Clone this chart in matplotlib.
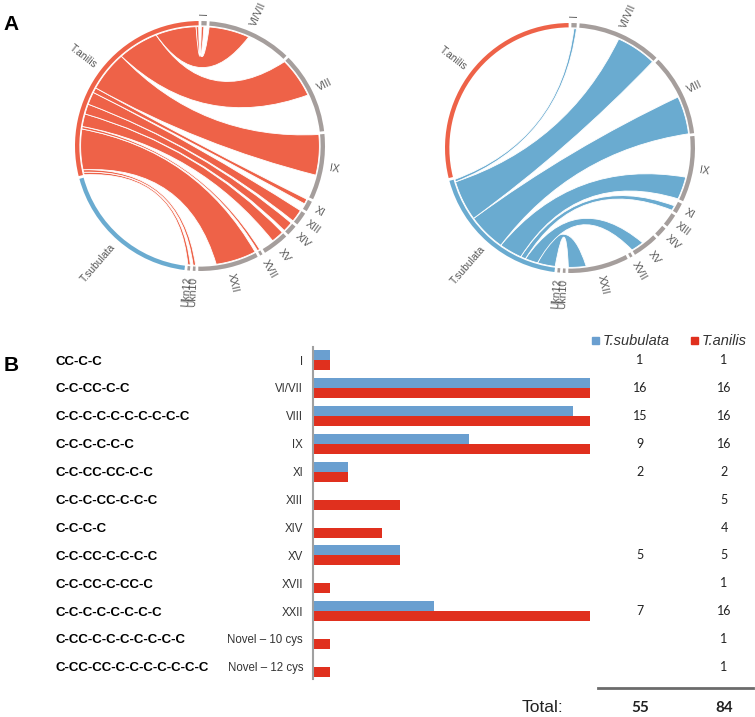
import numpy as np
import matplotlib.pyplot as plt
import matplotlib.transforms as mtransforms
from matplotlib.path import Path
from matplotlib.patches import PathPatch, Wedge, Rectangle
from matplotlib.lines import Line2D

plt.rcParams['font.family'] = ['Liberation Sans', 'DejaVu Sans']

# data
motifs = ["CC-C-C", "C-C-CC-C-C", "C-C-C-C-C-C-C-C-C-C", "C-C-C-C-C-C",
          "C-C-CC-CC-C-C", "C-C-C-CC-C-C-C", "C-C-C-C", "C-C-CC-C-C-C-C",
          "C-C-CC-C-CC-C", "C-C-C-C-C-C-C-C", "C-CC-C-C-C-C-C-C-C",
          "C-CC-CC-C-C-C-C-C-C-C"]
groups = ["I", "VI/VII", "VIII", "IX", "XI", "XIII", "XIV", "XV", "XVII",
          "XXII", "Novel \u2013 10 cys", "Novel \u2013 12 cys"]
chord_names = ["I", "VI/VII", "VIII", "IX", "XI", "XIII", "XIV", "XV", "XVII",
               "XXII", "Ukn10", "Ukn12"]
subulata = [1, 16, 15, 9, 2, 0, 0, 5, 0, 7, 0, 0]
anilis = [1, 16, 16, 16, 2, 5, 4, 5, 1, 16, 1, 1]
species = ["T.subulata", "T.anilis"]

C_RED = "#EE6248"
C_BLUE = "#6AABD0"
C_GRAY = "#A59E9C"
BAR_BLUE = "#6A9FD0"
BAR_RED = "#E0301E"
LBL = "#555555"

W, H = 755, 717
fig = plt.figure(figsize=(W / 100, H / 100), dpi=100)


def px_axes(x0, y0, w, h):
    return fig.add_axes([x0 / W, 1 - (y0 + h) / H, w / W, h / H])


# ---- chord diagrams ----
GAP = 1.3
total = sum(subulata) + sum(anilis)
UNIT = (360 - 14 * GAP) / (2 * total)
R_TRK, TRK_W, R_LNK = 1.0, 0.035, 0.955

sizes = [s + a for s, a in zip(subulata, anilis)] + [sum(subulata), sum(anilis)]
starts = []
ang = 90 - GAP / 2
for v in sizes:
    starts.append(ang)
    ang -= v * UNIT + GAP


def pol(a, r=R_LNK):
    t = np.radians(a)
    return np.array([r * np.cos(t), r * np.sin(t)])


def arc(a1, a2, r=R_LNK, n=40):
    t = np.radians(np.linspace(a1, a2, n))
    return np.column_stack([r * np.cos(t), r * np.sin(t)])


def ctrl(p, q):
    # control point pulled towards the centre for wide links
    mid = (pol(p) + pol(q)) / 2
    c = np.linalg.norm(mid) / R_LNK
    return mid * 0.5 * c * c


def ribbon(ax, a1, a2, b1, b2, color):
    src = arc(a1, a2)
    tgt = arc(b1, b2)
    verts = list(src) + [ctrl(a2, b1), tgt[0]] + list(tgt[1:]) + [ctrl(b2, a1), src[0], src[0]]
    codes = ([Path.MOVETO] + [Path.LINETO] * (len(src) - 1) + [Path.CURVE3] * 2
             + [Path.LINETO] * (len(tgt) - 1) + [Path.CURVE3] * 2 + [Path.CLOSEPOLY])
    ax.add_patch(PathPatch(Path(verts, codes), facecolor=color, edgecolor='white', lw=0.6))


def chord(ax, which):
    names = chord_names + species
    colors = [C_GRAY] * len(chord_names) + [C_BLUE, C_RED]
    for s, v, c, nm in zip(starts, sizes, colors, names):
        ax.add_patch(Wedge((0, 0), R_TRK, s - v * UNIT, s, width=TRK_W, color=c, lw=0))
        mid = s - v * UNIT / 2
        mid = (mid + 180) % 360 - 180
        x, y = pol(mid, 1.05)
        if np.cos(np.radians(mid)) >= 0:
            rot, ha = mid, 'left'
        else:
            rot, ha = mid - 180, 'right'
        ax.text(x, y, nm, rotation=rot, ha=ha, va='center', rotation_mode='anchor',
                fontsize=7.5, color=LBL)
    vals = subulata if which == 0 else anilis
    col = C_BLUE if which == 0 else C_RED
    sp = starts[len(chord_names) + which]
    for i in reversed(range(len(vals))):
        if vals[i] == 0:
            continue
        a1 = sp
        a2 = sp - vals[i] * UNIT
        sp = a2
        off = 0 if which == 1 else anilis[i]
        b1 = starts[i] - off * UNIT
        b2 = b1 - vals[i] * UNIT
        ribbon(ax, a1, a2, b1, b2, col)
    ax.set_xlim(-1.2, 1.2)
    ax.set_ylim(-1.2, 1.2)
    ax.set_aspect('equal')
    ax.axis('off')


ax_l = px_axes(50, -4, 300, 300)
chord(ax_l, 1)
ax_r = px_axes(420, -2, 300, 300)
chord(ax_r, 0)

# ---- bar chart ----
ax_b = px_axes(313, 347, 277, 332)
y = np.arange(len(groups))
ax_b.barh(y - 0.18, subulata, height=0.36, color=BAR_BLUE)
ax_b.barh(y + 0.18, anilis, height=0.36, color=BAR_RED)
ax_b.set_xlim(0, 16)
ax_b.set_ylim(len(groups) - 0.57, -0.47)
for s in ['top', 'right', 'bottom']:
    ax_b.spines[s].set_visible(False)
ax_b.spines['left'].set_color('#A0A0A0')
ax_b.spines['left'].set_linewidth(1.5)
ax_b.set_xticks([])
ax_b.set_yticks([])

tr = mtransforms.blended_transform_factory(fig.transFigure, ax_b.transData)
for i in range(len(groups)):
    ax_b.text(55 / W, i + 0.05, motifs[i], transform=tr, ha='left', va='center',
              fontsize=9.5, fontweight='bold', color='black')
    ax_b.text(303 / W, i + 0.05, groups[i], transform=tr, ha='right', va='center',
              fontsize=8.3, color='#333333')
    if subulata[i]:
        ax_b.text(640 / W, i, str(subulata[i]), transform=tr, ha='center', va='center',
                  fontsize=9, family='Lato', color='#222222')
    ax_b.text(724 / W, i, str(anilis[i]), transform=tr, ha='center', va='center',
              fontsize=9, family='Lato', color='#222222')

# legend
for x0, c, nm in [(592, BAR_BLUE, species[0]), (691, BAR_RED, species[1])]:
    fig.add_artist(Rectangle((x0 / W, 1 - 344 / H), 7 / W, 7 / H, color=c,
                             transform=fig.transFigure))
    fig.text((x0 + 11) / W, 1 - 341 / H, nm, ha='left', va='center', fontsize=10.5,
             style='italic', color='#333333')

fig.add_artist(Line2D([598 / W, 753 / W], [1 - 688 / H] * 2, color='#6b6b6b', lw=2))
fig.text(543 / W, 1 - 708 / H, "Total:", ha='center', va='center', fontsize=12.5, color='#222222')
fig.text(640 / W, 1 - 708 / H, str(sum(subulata)), ha='center', va='center', fontsize=11,
         fontweight='bold', family='Lato', color='#222222')
fig.text(724 / W, 1 - 708 / H, str(sum(anilis)), ha='center', va='center', fontsize=11,
         fontweight='bold', family='Lato', color='#222222')

fig.text(11 / W, 1 - 25 / H, "A", ha='center', va='center', fontsize=15, fontweight='bold')
fig.text(11 / W, 1 - 365 / H, "B", ha='center', va='center', fontsize=15, fontweight='bold')

fig.savefig("out.png", dpi=100, facecolor='white')
